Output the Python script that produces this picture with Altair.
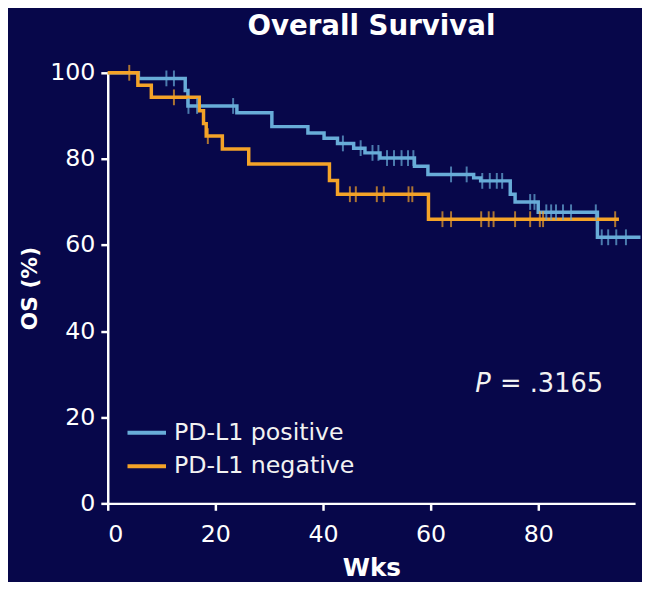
import altair as alt
import pandas as pd

# PD-L1 positive (blue)
pos_times = [0, 5.7, 14.4, 14.9, 24.0, 30.5, 37.2, 40.2, 42.7, 45.7, 47.8, 50.6, 57.0, 59.5, 68.0, 69.3, 74.8, 75.7, 80.0, 91.0, 99.0]
pos_surv = [100, 98.7, 95.9, 92.3, 90.7, 87.5, 86.0, 84.8, 83.6, 82.5, 81.4, 80.2, 78.3, 76.4, 75.6, 74.9, 71.8, 70.0, 67.6, 61.8, 61.8]
pos_censor = [10.9, 12.3, 15.0, 16.6, 23.3, 43.7, 47.0, 49.2, 50.3, 51.9, 53.2, 54.6, 55.8, 56.8,
              63.8, 66.7, 69.6, 71.0, 72.3, 73.3, 78.5, 79.3, 81.5, 82.4, 83.3, 84.6, 86.1, 90.7,
              91.8, 93.0, 94.5, 96.3]

# PD-L1 negative (orange)
neg_times = [0, 5.6, 8.1, 17.0, 17.8, 18.3, 21.3, 26.2, 41.2, 42.7, 59.6, 95.0]
neg_surv = [100, 97.1, 94.3, 91.2, 88.2, 85.3, 82.3, 78.8, 75.0, 71.8, 66.0, 66.0]
neg_censor = [4.0, 12.3, 18.6, 45.0, 46.1, 50.0, 51.3, 55.9, 56.6, 62.2, 63.8, 69.4, 70.8,
              71.7, 75.7, 78.5, 80.3, 80.9, 94.3]

groups = ["PD-L1 positive", "PD-L1 negative"]
colors = ["#68acd8", "#f4a328"]
x_ticks = [0, 20, 40, 60, 80]
y_ticks = [0, 20, 40, 60, 80, 100]
p_label = ["P", "= .3165"]

FONT = "DejaVu Sans"


def level(times, surv, t):
    s = surv[0]
    for tt, ss in zip(times, surv):
        if tt <= t:
            s = ss
    return s


rows = []
for g, ts, ss in [(groups[0], pos_times, pos_surv), (groups[1], neg_times, neg_surv)]:
    for t, s in zip(ts, ss):
        rows.append({"group": g, "wk": t, "os": s})
line_df = pd.DataFrame(rows)

crows = []
for g, cs, ts, ss in [(groups[0], pos_censor, pos_times, pos_surv), (groups[1], neg_censor, neg_times, neg_surv)]:
    for c in cs:
        crows.append({"group": g, "wk": c, "os": level(ts, ss, c)})
cens_df = pd.DataFrame(crows)

xscale = alt.Scale(domain=[0, 98], nice=False, zero=False)
yscale = alt.Scale(domain=[0, 100], nice=False)
color = alt.Color(
    "group:N",
    scale=alt.Scale(domain=groups, range=colors),
    sort=groups,
    legend=alt.Legend(
        title=None, orient="none", legendX=18, legendY=343,
        symbolType="stroke", symbolSize=1521, symbolStrokeWidth=4,
        labelFont=FONT, labelFontSize=24, labelColor="#f2f2f2",
        labelOffset=6, rowPadding=-7, padding=0, labelLimit=400,
    ),
)

x_enc = alt.X(
    "wk:Q", scale=xscale,
    axis=alt.Axis(values=x_ticks, title="Wks", titleFontSize=25, titlePadding=9,
                  labelPadding=13, format="d"),
)
y_enc = alt.Y(
    "os:Q", scale=yscale,
    axis=alt.Axis(values=y_ticks, title="OS (%)", titleFontSize=22, titlePadding=8,
                  labelPadding=6, format="d"),
)

lines = alt.Chart(line_df).mark_line(interpolate="step-after", strokeWidth=3.5).encode(
    x=x_enc, y=y_enc, color=color, order="wk:Q"
)
ticks = alt.Chart(cens_df).mark_tick(orient="vertical", size=16, thickness=2).encode(
    x=alt.X("wk:Q", scale=xscale), y=alt.Y("os:Q", scale=yscale),
    color=alt.Color("group:N", scale=alt.Scale(domain=groups, range=colors), legend=None),
)

p_df = pd.DataFrame({"wk": [68.3], "os": [27.8], "t": [p_label[0]]})
q_df = pd.DataFrame({"wk": [72.9], "os": [27.8], "t": [p_label[1]]})
p_text = alt.Chart(p_df).mark_text(
    align="left", baseline="middle", font=FONT, fontSize=26, fontStyle="italic", color="#f2f2f2"
).encode(x=alt.X("wk:Q", scale=xscale), y=alt.Y("os:Q", scale=yscale), text="t:N")
q_text = alt.Chart(q_df).mark_text(
    align="left", baseline="middle", font=FONT, fontSize=26, color="#f2f2f2"
).encode(x=alt.X("wk:Q", scale=xscale), y=alt.Y("os:Q", scale=yscale), text="t:N")

chart = (
    alt.layer(lines, ticks, p_text, q_text)
    .properties(
        width=534, height=436,
        autosize=alt.AutoSizeParams(type="none"),
        padding={"left": 101, "top": 62, "right": 7, "bottom": 76},
        background="#07074a",
        title=alt.TitleParams("Overall Survival", font=FONT, fontSize=28, fontWeight="bold",
                              color="#ffffff", anchor="middle", offset=20),
    )
    .configure_view(stroke=None)
    .configure_axis(
        domainColor="#ffffff", domainWidth=2.5, tickColor="#ffffff", tickWidth=2.5, tickSize=7,
        labelColor="#ffffff", labelFont=FONT, labelFontSize=24, grid=False,
        titleColor="#ffffff", titleFont=FONT, titleFontWeight="bold",
    )
)

chart.save("out.html", embed_options={"renderer": "svg", "actions": False})
